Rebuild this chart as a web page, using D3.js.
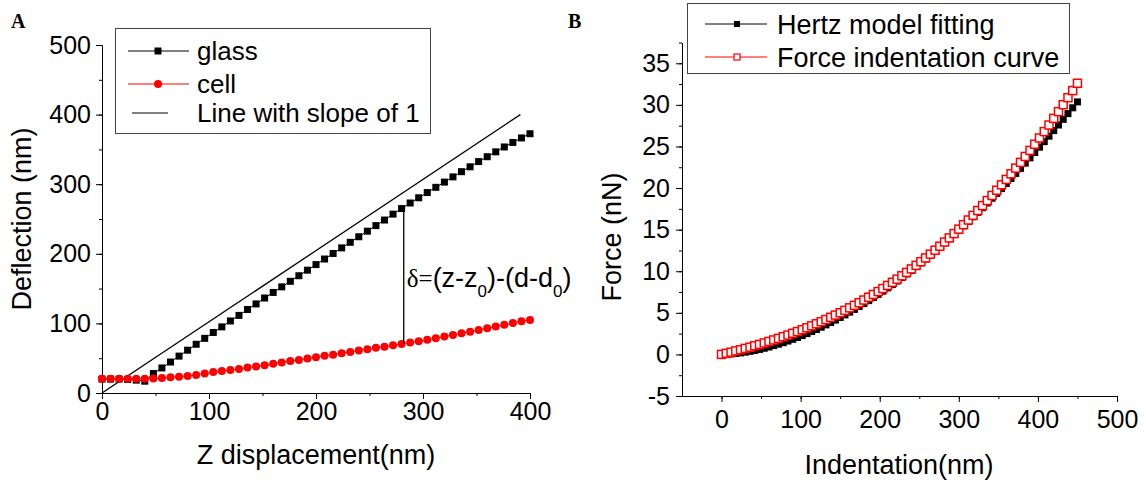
<!DOCTYPE html>
<html><head><meta charset="utf-8">
<script src="https://cdn.jsdelivr.net/npm/d3@7"></script>
<style>
html,body{margin:0;padding:0;background:#fff;}
svg{display:block;font-family:"Liberation Sans",Arial,sans-serif;}
</style></head>
<body>
<svg id="c" width="1146" height="482"></svg>
<script>
// ---------- Panel A data ----------
const zDisp = [0,8,16,24,32,40,48,56,64,72,80,88,96,104,112,120,128,136,144,152,160,168,176,184,192,200,208,216,224,232,240,248,256,264,272,280,288,296,304,312,320,328,336,344,352,360,368,376,384,392,400];
const glass = [20,20,20,19.5,18.5,17,28,36,44.5,53,61.5,70,78.5,87,95,103.5,111.5,120,128,136.5,144.5,152.5,160.5,168.5,176.5,184.5,192.5,200.5,208.5,216.5,224.5,232.5,240.5,248.5,257,265,273,280.5,288,295.5,303,310.5,318,325,332.5,339.5,346.5,353.5,360,366.5,372.5];
const cell = [20.5,20.5,20.5,20.5,20.5,20.5,21,21.5,22.5,23.5,24.5,26,28,30,31.5,33,34.5,36.5,38,40,42,44,46,47.5,49.5,51.5,53.5,55,57,59,61,63,65,66.5,68.5,70.5,72.5,74.5,76.5,78.5,81,83.5,86,88,90.5,93,95.5,98,100.5,103,105];
const slopeLineX = [0, 391];
const slopeLineY = [0, 400];
const deltaAt = {x: 282, top: 267, bottom: 71};
const xTicksA = [0,100,200,300,400];
const yTicksA = [0,100,200,300,400,500];
const legendA = ["glass","cell","Line with slope of 1"];

// ---------- Panel B data ----------
const indentation = [0,6,12,18,24,30,36,42,48,54,60,66,72,78,84,90,96,102,108,114,120,126,132,138,144,150,156,162,168,174,180,186,192,198,204,210,216,222,228,234,240,246,252,258,264,270,276,282,288,294,300,306,312,318,324,330,336,342,348,354,360,366,372,378,384,390,396,402,408,414,420,426,432,438,444,450];
const hertzFit = [0,0.02,0.05,0.11,0.18,0.27,0.37,0.48,0.60,0.74,0.89,1.06,1.23,1.41,1.61,1.82,2.03,2.26,2.50,2.75,3.00,3.27,3.55,3.84,4.13,4.44,4.75,5.08,5.41,5.76,6.11,6.47,6.84,7.22,7.60,8.00,8.40,8.82,9.24,9.67,10.10,10.55,11.00,11.47,11.94,12.42,12.90,13.40,13.90,14.41,14.93,15.46,15.99,16.54,17.08,17.64,18.21,18.78,19.36,19.95,20.54,21.15,21.76,22.37,23.00,23.63,24.27,24.92,25.58,26.24,26.91,27.58,28.26,28.95,29.65,30.36];
const forceCurve = [0,0.13,0.27,0.42,0.56,0.72,0.87,1.04,1.20,1.38,1.56,1.74,1.93,2.13,2.33,2.54,2.75,2.97,3.20,3.44,3.68,3.93,4.19,4.46,4.73,5.01,5.30,5.60,5.90,6.22,6.54,6.87,7.21,7.56,7.92,8.29,8.67,9.05,9.45,9.86,10.28,10.71,11.15,11.60,12.06,12.53,13.01,13.51,14.01,14.53,15.06,15.60,16.16,16.72,17.30,17.89,18.50,19.11,19.74,20.39,21.04,21.71,22.40,23.09,23.80,24.53,25.27,26.02,26.79,27.58,28.38,29.19,30.02,30.86,31.72,32.60];
const xTicksB = [0,100,200,300,400,500];
const yTicksB = [-5,0,5,10,15,20,25,30,35];
const legendB = ["Hertz model fitting","Force indentation curve"];

const svg = d3.select("#c");
svg.append("rect").attr("width",1146).attr("height",482).attr("fill","#fff");
const fmt = d => String(d); // plain hyphen-minus like the original

function styleAxis(g, fs){
  g.select(".domain").attr("stroke","#000").attr("stroke-width",1);
  g.selectAll(".tick line").attr("stroke","#000").attr("stroke-width",1);
  g.selectAll("text").attr("font-size",fs).attr("fill","#000").attr("font-family","'Liberation Sans',Arial,sans-serif");
}
function minorTicks(domain, step){
  const out=[]; for(let v=domain[0]; v<=domain[1]+1e-9; v+=step) out.push(+v.toFixed(4)); return out;
}

// ================= Panel A =================
const xA = d3.scaleLinear().domain([0,400]).range([102,530]);
const yA = d3.scaleLinear().domain([0,500]).range([393,45]);

svg.append("g").attr("transform","translate(0,393)")
  .call(d3.axisBottom(xA).tickValues(minorTicks([0,400],50)).tickSize(3).tickFormat("").tickSizeOuter(0))
  .call(g=>styleAxis(g,25));
svg.append("g").attr("transform","translate(102,0)")
  .call(d3.axisLeft(yA).tickValues(minorTicks([0,500],50)).tickSize(3).tickFormat("").tickSizeOuter(0))
  .call(g=>styleAxis(g,25));
svg.append("g").attr("transform","translate(0,393)")
  .call(d3.axisBottom(xA).tickValues(xTicksA).tickFormat(fmt).tickSize(6).tickPadding(3).tickSizeOuter(0))
  .call(g=>styleAxis(g,25));
svg.append("g").attr("transform","translate(102,0)")
  .call(d3.axisLeft(yA).tickValues(yTicksA).tickFormat(fmt).tickSize(6).tickPadding(5).tickSizeOuter(0))
  .call(g=>styleAxis(g,25));

svg.append("text").attr("x",316).attr("y",464).attr("text-anchor","middle")
  .attr("font-size",27).text("Z displacement(nm)");
svg.append("text").attr("transform","translate(31,219) rotate(-90)").attr("text-anchor","middle")
  .attr("font-size",27).text("Deflection (nm)");
svg.append("text").attr("x",11).attr("y",28).attr("font-family","'Liberation Serif','Times New Roman',serif")
  .attr("font-weight","bold").attr("font-size",20).text("A");

svg.append("line").attr("x1",xA(slopeLineX[0])).attr("y1",yA(slopeLineY[0]))
  .attr("x2",xA(slopeLineX[1])).attr("y2",yA(slopeLineY[1])).attr("stroke","#000").attr("stroke-width",1.3);

const ptsGlass = zDisp.map((z,i)=>[z,glass[i]]);
const ptsCell = zDisp.map((z,i)=>[z,cell[i]]);
const lineA = d3.line().x(d=>xA(d[0])).y(d=>yA(d[1]));
svg.append("path").attr("d",lineA(ptsGlass)).attr("fill","none").attr("stroke","#000").attr("stroke-width",1);
svg.append("g").selectAll("rect").data(ptsGlass).join("rect")
  .attr("x",d=>xA(d[0])-3.5).attr("y",d=>yA(d[1])-3.5).attr("width",7).attr("height",7).attr("fill","#000");
svg.append("path").attr("d",lineA(ptsCell)).attr("fill","none").attr("stroke","#f00").attr("stroke-width",1);
svg.append("g").selectAll("circle").data(ptsCell).join("circle")
  .attr("cx",d=>xA(d[0])).attr("cy",d=>yA(d[1])).attr("r",4).attr("fill","#f00");

svg.append("line").attr("x1",xA(deltaAt.x)).attr("x2",xA(deltaAt.x))
  .attr("y1",yA(deltaAt.top)).attr("y2",yA(deltaAt.bottom)).attr("stroke","#000").attr("stroke-width",1.3);
const ann = svg.append("text").attr("x",xA(deltaAt.x)+3).attr("y",287).attr("font-size",27);
ann.append("tspan").attr("font-family","'Liberation Serif','Times New Roman',serif").attr("font-size",25).text("δ=");
ann.append("tspan").text("(z-z");
ann.append("tspan").attr("font-size",17).attr("dy",10).text("0");
ann.append("tspan").attr("dy",-10).text(")-(d-d");
ann.append("tspan").attr("font-size",17).attr("dy",10).text("0");
ann.append("tspan").attr("dy",-10).text(")");

const lgA = svg.append("g");
lgA.append("rect").attr("x",115.5).attr("y",28.5).attr("width",315).attr("height",105)
  .attr("fill","#fff").attr("stroke","#444").attr("stroke-width",1);
const lyA = [51,84,113];
lgA.append("line").attr("x1",128).attr("x2",189).attr("y1",lyA[0]).attr("y2",lyA[0]).attr("stroke","#000");
lgA.append("rect").attr("x",158-3.5).attr("y",lyA[0]-3.5).attr("width",7).attr("height",7).attr("fill","#000");
lgA.append("line").attr("x1",128).attr("x2",189).attr("y1",lyA[1]).attr("y2",lyA[1]).attr("stroke","#f00");
lgA.append("circle").attr("cx",158).attr("cy",lyA[1]).attr("r",4).attr("fill","#f00");
lgA.append("line").attr("x1",132).attr("x2",168).attr("y1",lyA[2]).attr("y2",lyA[2]).attr("stroke","#000");
legendA.forEach((t,i)=>lgA.append("text").attr("x",197).attr("y",lyA[i]).attr("dy","0.36em")
  .attr("font-size",26).text(t));

// ================= Panel B =================
const xB = d3.scaleLinear().domain([-50,500]).range([682,1117]);
const yB = d3.scaleLinear().domain([-5,37.5]).range([396,42.5]);

svg.append("g").attr("transform","translate(0,396)")
  .call(d3.axisBottom(xB).tickValues(minorTicks([0,500],50)).tickSize(3).tickFormat("").tickSizeOuter(0))
  .call(g=>styleAxis(g,25));
svg.append("g").attr("transform","translate(682,0)")
  .call(d3.axisLeft(yB).tickValues(minorTicks([-5,37.5],2.5)).tickSize(3).tickFormat("").tickSizeOuter(0))
  .call(g=>styleAxis(g,25));
svg.append("g").attr("transform","translate(0,396)")
  .call(d3.axisBottom(xB).tickValues(xTicksB).tickFormat(fmt).tickSize(6).tickPadding(8).tickSizeOuter(0))
  .call(g=>styleAxis(g,25));
svg.append("g").attr("transform","translate(682,0)")
  .call(d3.axisLeft(yB).tickValues(yTicksB).tickFormat(fmt).tickSize(6).tickPadding(6).tickSizeOuter(0))
  .call(g=>styleAxis(g,25));

svg.append("text").attr("x",899).attr("y",474).attr("text-anchor","middle")
  .attr("font-size",27).text("Indentation(nm)");
svg.append("text").attr("transform","translate(621,237) rotate(-90)").attr("text-anchor","middle")
  .attr("font-size",27).text("Force (nN)");
svg.append("text").attr("x",568).attr("y",28).attr("font-family","'Liberation Serif','Times New Roman',serif")
  .attr("font-weight","bold").attr("font-size",20).text("B");

const ptsH = indentation.map((x,i)=>[x,hertzFit[i]]);
const ptsF = indentation.map((x,i)=>[x,forceCurve[i]]);
const lineB = d3.line().x(d=>xB(d[0])).y(d=>yB(d[1]));
svg.append("path").attr("d",lineB(ptsH)).attr("fill","none").attr("stroke","#000").attr("stroke-width",1);
svg.append("g").selectAll("rect").data(ptsH).join("rect")
  .attr("x",d=>xB(d[0])-3.5).attr("y",d=>yB(d[1])-3.5).attr("width",7).attr("height",7).attr("fill","#000");
svg.append("path").attr("d",lineB(ptsF)).attr("fill","none").attr("stroke","#f00").attr("stroke-width",1);
svg.append("g").selectAll("rect").data(ptsF).join("rect")
  .attr("x",d=>xB(d[0])-4).attr("y",d=>yB(d[1])-4).attr("width",8).attr("height",8)
  .attr("fill","#fff").attr("stroke","#f00").attr("stroke-width",1.5);

const lgB = svg.append("g");
lgB.append("rect").attr("x",687.5).attr("y",3.5).attr("width",382).attr("height",70)
  .attr("fill","#fff").attr("stroke","#444").attr("stroke-width",1);
const lyB = [24,57];
lgB.append("line").attr("x1",705).attr("x2",767).attr("y1",lyB[0]).attr("y2",lyB[0]).attr("stroke","#000");
lgB.append("rect").attr("x",737-3).attr("y",lyB[0]-3).attr("width",6).attr("height",6).attr("fill","#000");
lgB.append("line").attr("x1",705).attr("x2",767).attr("y1",lyB[1]).attr("y2",lyB[1]).attr("stroke","#f00");
lgB.append("rect").attr("x",737-3).attr("y",lyB[1]-3).attr("width",6).attr("height",6)
  .attr("fill","#fff").attr("stroke","#f00").attr("stroke-width",1.2);
legendB.forEach((t,i)=>lgB.append("text").attr("x",777).attr("y",lyB[i]).attr("dy","0.36em")
  .attr("font-size",27).text(t));
</script>
</body></html>
